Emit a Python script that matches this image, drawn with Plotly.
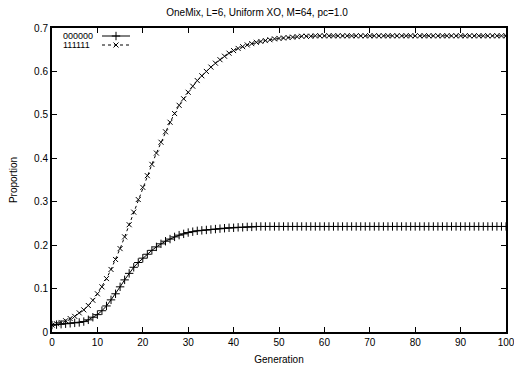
import plotly.graph_objects as go

generations = list(range(0, 101))

series_000000 = [
    0.016, 0.017, 0.018, 0.019, 0.020, 0.021, 0.022, 0.024, 0.028, 0.034,
    0.040, 0.049, 0.060, 0.074, 0.088, 0.104, 0.120, 0.135, 0.149, 0.160,
    0.170, 0.179, 0.188, 0.196, 0.203, 0.209, 0.214, 0.219, 0.223, 0.226,
    0.229, 0.231, 0.233, 0.234, 0.235, 0.236, 0.237, 0.238, 0.239, 0.240,
    0.240, 0.241, 0.241, 0.242, 0.242, 0.243, 0.243, 0.243, 0.243, 0.243,
    0.243, 0.243, 0.243, 0.243, 0.243, 0.243, 0.243, 0.243, 0.243, 0.243,
    0.243, 0.243, 0.243, 0.243, 0.243, 0.243, 0.243, 0.243, 0.243, 0.243,
    0.243, 0.243, 0.243, 0.243, 0.243, 0.243, 0.243, 0.243, 0.243, 0.243,
    0.243, 0.243, 0.243, 0.243, 0.243, 0.243, 0.243, 0.243, 0.243, 0.243,
    0.243, 0.243, 0.243, 0.243, 0.243, 0.243, 0.243, 0.243, 0.243, 0.243,
    0.243,
]

series_111111 = [
    0.016, 0.019, 0.022, 0.026, 0.031, 0.036, 0.044, 0.051, 0.061, 0.073,
    0.088, 0.104, 0.123, 0.144, 0.167, 0.192, 0.219, 0.247, 0.276, 0.305,
    0.333, 0.360, 0.386, 0.412, 0.437, 0.461, 0.483, 0.503, 0.522, 0.537,
    0.552, 0.566, 0.579, 0.590, 0.600, 0.610, 0.619, 0.627, 0.635, 0.642,
    0.648, 0.653, 0.657, 0.661, 0.664, 0.667, 0.669, 0.671, 0.673, 0.675,
    0.676, 0.677, 0.678, 0.679, 0.680, 0.681, 0.681, 0.681, 0.682, 0.682,
    0.682, 0.682, 0.682, 0.682, 0.682, 0.682, 0.682, 0.682, 0.682, 0.682,
    0.682, 0.682, 0.682, 0.682, 0.682, 0.682, 0.682, 0.682, 0.682, 0.682,
    0.682, 0.682, 0.682, 0.682, 0.682, 0.682, 0.682, 0.682, 0.682, 0.682,
    0.682, 0.682, 0.682, 0.682, 0.682, 0.682, 0.682, 0.682, 0.682, 0.682,
    0.682,
]

series_names = ["000000", "111111"]
x_ticks = list(range(0, 101, 10))
y_ticks = [0, 0.1, 0.2, 0.3, 0.4, 0.5, 0.6, 0.7]
y_tick_labels = ["0", "0.1", "0.2", "0.3", "0.4", "0.5", "0.6", "0.7"]

FONT = "Liberation Sans, Arial, Helvetica, sans-serif"
W, H = 514, 365
ML, MR, MT, MB = 52, 8, 28, 33
PW, PH = W - ML - MR, H - MT - MB

fig = go.Figure()

fig.add_trace(go.Scatter(
    x=generations, y=series_000000, name=series_names[0], mode="lines+markers",
    line=dict(color="black", width=1),
    marker=dict(symbol="cross-thin-open", size=6, color="black", line=dict(color="black", width=1)),
    showlegend=False,
))
fig.add_trace(go.Scatter(
    x=generations, y=series_111111, name=series_names[1], mode="lines+markers",
    line=dict(color="black", width=1, dash="3px,3px"),
    marker=dict(symbol="x-thin-open", size=5, color="black", line=dict(color="black", width=1)),
    showlegend=False,
))

# Gnuplot-style legend (text left, sample right) drawn on an overlay axis in pixel units
legend_rows = [(series_names[0], 36, "solid", "cross-thin-open", 6),
               (series_names[1], 45, "3px,3px", "x-thin-open", 5)]
for name, ytop, dash, sym, sz in legend_rows:
    ypix = PH - (ytop - MT)
    fig.add_trace(go.Scatter(
        x=[50, 64, 78], y=[ypix, ypix, ypix], mode="lines",
        line=dict(color="black", width=1, dash=dash),
        xaxis="x2", yaxis="y2", showlegend=False, hoverinfo="skip",
    ))
    fig.add_trace(go.Scatter(
        x=[64], y=[ypix], mode="markers",
        marker=dict(symbol=sym, size=sz, color="black", line=dict(color="black", width=1)),
        xaxis="x2", yaxis="y2", showlegend=False, hoverinfo="skip",
    ))
    fig.add_annotation(
        x=(61 - ML) / PW, y=1 - (ytop - MT) / PH, xref="paper", yref="paper", text=name,
        showarrow=False, xanchor="left", yanchor="middle",
        font=dict(family=FONT, size=9, color="black"),
    )

fig.update_layout(
    width=W, height=H,
    margin=dict(l=ML, r=MR, t=MT, b=MB, autoexpand=False),
    paper_bgcolor="white", plot_bgcolor="white",
    font=dict(family=FONT, size=10, color="black"),
    title=dict(text="OneMix, L=6, Uniform XO, M=64, pc=1.0", x=0.5, xanchor="center",
               y=1 - 12 / H, yanchor="middle", font=dict(family=FONT, size=10, color="black")),
    xaxis=dict(
        range=[0, 100], tickvals=x_ticks, ticks="inside", ticklen=5, tickwidth=1,
        tickcolor="black", showline=True, linecolor="black", linewidth=2, mirror="ticks",
        showgrid=False, zeroline=False, automargin=False, ticklabeloverflow="allow",
        title=dict(text="Generation", font=dict(family=FONT, size=10)),
        tickfont=dict(family=FONT, size=10),
    ),
    yaxis=dict(
        range=[0, 0.7], tickvals=y_ticks, ticktext=y_tick_labels, ticks="inside", ticklen=5,
        tickwidth=1, tickcolor="black", showline=True, linecolor="black", linewidth=2,
        mirror="ticks", showgrid=False, zeroline=False, automargin=False,
        ticklabeloverflow="allow",
        title=dict(text="Proportion", font=dict(family=FONT, size=10)),
        tickfont=dict(family=FONT, size=10),
    ),
    xaxis2=dict(range=[0, PW], overlaying="x", visible=False, fixedrange=True),
    yaxis2=dict(range=[0, PH], overlaying="y", visible=False, fixedrange=True),
)

fig.write_html("out.html")
